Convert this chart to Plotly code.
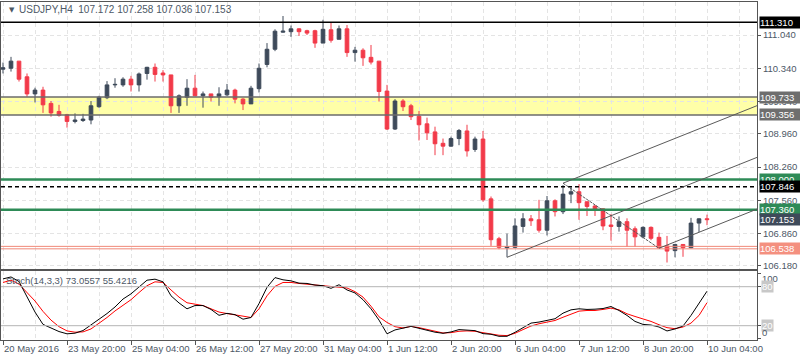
import plotly.graph_objects as go

# ---------------- data ----------------
opens = [110.32,110.34,110.49,110.16,109.80,109.88,109.60,109.43,109.36,109.22,
         109.24,109.25,109.53,109.72,109.99,109.99,110.11,109.99,110.23,110.36,
         110.24,110.20,109.55,109.73,109.92,109.76,109.80,109.74,109.78,109.88,
         109.69,109.59,109.91,110.42,110.74,111.10,111.11,111.17,111.13,111.13,
         110.87,111.15,110.95,111.17,110.67,110.72,110.57,110.49,109.86,109.06,
         109.65,109.55,109.33,109.17,109.00,108.76,108.70,108.86,109.02,108.63,
         108.85,107.59,106.75,106.56,106.57,107.01,107.17,107.15,106.93,107.55,
         107.32,107.69,107.74,107.53,107.44,107.38,107.04,107.01,107.11,106.96,
         106.79,106.99,106.78,106.60,106.50,106.63,106.56,107.08,107.172]
highs = [110.46,110.58,110.49,110.23,109.93,109.95,109.65,109.57,109.38,109.39,
         109.38,109.65,109.76,110.07,110.13,110.15,110.18,110.25,110.37,110.44,
         110.30,110.20,109.79,110.11,110.20,109.85,109.80,109.94,110.01,109.91,
         109.71,109.97,110.44,110.87,111.16,111.44,111.24,111.18,111.15,111.15,
         111.36,111.31,111.24,111.25,110.79,110.76,110.83,110.49,109.99,109.69,
         109.69,109.59,109.44,109.30,109.11,108.86,108.90,109.06,109.15,108.90,
         109.02,107.64,106.79,106.86,107.18,107.29,107.25,107.57,107.65,107.58,
         107.88,107.83,107.90,107.53,107.46,107.39,107.27,107.22,107.18,107.01,
         107.01,107.01,106.88,106.81,106.63,106.63,107.19,107.18,107.258]
lows = [110.23,110.27,110.06,109.74,109.62,109.40,109.32,109.32,109.09,109.18,
        109.21,109.16,109.51,109.69,109.93,109.95,109.85,109.85,110.10,110.06,
        110.06,109.40,109.40,109.55,109.76,109.51,109.64,109.55,109.76,109.60,
        109.46,109.59,109.83,110.36,110.70,111.09,111.00,111.02,111.04,110.77,
        110.87,110.88,110.95,110.58,110.48,110.39,110.42,109.64,109.04,109.04,
        109.44,109.25,108.82,108.83,108.51,108.51,108.69,108.72,108.48,108.58,
        107.53,106.60,106.53,106.36,106.55,106.88,107.02,106.88,106.82,107.22,
        107.27,107.50,107.15,107.23,107.23,106.93,106.71,106.90,106.58,106.58,
        106.76,106.72,106.55,106.25,106.36,106.37,106.55,106.89,107.036]
closes = [110.35,110.49,110.11,109.80,109.88,109.57,109.40,109.35,109.22,109.25,
          109.27,109.55,109.73,109.99,110.00,110.11,109.99,110.22,110.36,110.21,
          110.20,109.55,109.76,109.92,109.76,109.80,109.73,109.80,109.88,109.69,
          109.59,109.92,110.34,110.74,111.12,111.12,111.17,111.11,111.08,110.87,
          111.16,110.93,111.17,110.67,110.72,110.56,110.47,109.85,109.06,109.65,
          109.53,109.32,109.15,108.98,108.75,108.70,108.86,109.03,108.60,108.85,
          107.57,106.73,106.57,106.58,107.02,107.17,107.13,106.93,107.55,107.32,
          107.69,107.74,107.51,107.43,107.36,107.02,107.01,107.11,106.93,106.79,
          106.99,106.76,106.56,106.49,106.63,106.56,107.08,107.17,107.153]

stoch_main = [92,95,88,64,41,22,16,11,7.5,8.5,
              12.5,21,29.6,38.7,48.8,61,69,79,90,91.6,
              87.5,66,55,46,51,51,45,36,39,37,
              30,32.6,54,79,94,90.6,89,85.5,85,82.5,
              81.5,77.5,83,75,70.4,60,46,28.6,7.5,13.5,
              16.5,19,16,13,10,8.3,10.4,14,13.4,12.4,
              7.8,6.8,3.7,3.7,9.8,17.5,24,25.6,28,30.7,
              39.3,44.4,46,45,45.4,46.4,49.5,43.4,35.8,26.6,
              22,21,18,11.9,15,19.5,35.8,53.6,73.0557]
stoch_signal = [86.5,90,84,71.4,58,42,28.6,18.5,12,10,
                10.5,15,23.6,32.6,42.7,52,60,71,81.5,87.5,
                86.5,75,64,55.3,53,51,46,41,38.7,37.2,
                34.7,32.6,46,66,80.5,86.5,86.5,85,84,82.5,
                81,80,80,78,72.4,64,50,33.7,25,18.5,
                16.5,19,17,14,11,8.8,9.3,11.4,12,11.4,
                9.3,6.8,5.3,4.8,8.3,14,19.5,23,25.6,28,
                33,38.3,42.4,43.4,43.4,45,47,44.4,38.3,34.2,
                30.7,26.6,21.5,17,15.4,18,24,35.8,55.4216]

tick_idx = [0,8,16,24,32,40,48,56,64,72,80,88]
tick_text = ["20 May 2016","23 May 20:00","25 May 04:00","26 May 12:00","27 May 20:00",
             "31 May 04:00","1 Jun 12:00","2 Jun 20:00","6 Jun 04:00","7 Jun 12:00",
             "8 Jun 20:00","10 Jun 04:00"]
price_ticks = [111.04,110.34,109.64,108.96,108.26,107.56,106.86,106.18]

zone_top, zone_bottom = 109.733, 109.356
line_black = 111.310
line_dashed = 107.846
green_levels = [108.000, 107.360]
salmon_levels = [106.590, 106.538]
bid_price = 107.153

pf_idx = [63, 70, 82]             # Andrews pitchfork anchors
pf_price = [106.36, 107.92, 106.55]

# ---------------- figure ----------------
N = len(opens)
xs = list(range(N))
X_MAX = 94.25
FONT = "Liberation Sans"
TXT = "#4d5866"
RED = "#F23A49"
DARK = "#3E4A5A"

fig = go.Figure()
fig.add_trace(go.Candlestick(
    x=xs, open=opens, high=highs, low=lows, close=closes,
    xaxis="x2", yaxis="y",
    increasing=dict(line=dict(color=DARK, width=1), fillcolor=DARK),
    decreasing=dict(line=dict(color=RED, width=1), fillcolor=RED),
    whiskerwidth=0, showlegend=False, hoverinfo="skip"))

fig.add_trace(go.Scatter(x=xs, y=stoch_signal, mode="lines", xaxis="x", yaxis="y2",
                         line=dict(color="#FF0000", width=1), showlegend=False))
fig.add_trace(go.Scatter(x=xs, y=stoch_main, mode="lines", xaxis="x", yaxis="y2",
                         line=dict(color="#000000", width=1), showlegend=False))

shapes = []
shapes.append(dict(type="rect", xref="x2 domain", yref="y", x0=0, x1=1,
                   y0=zone_bottom, y1=zone_top, fillcolor="#FFFFA8",
                   line=dict(width=0), layer="below"))
for lv in (zone_top, zone_bottom):
    shapes.append(dict(type="line", xref="x2 domain", yref="y", x0=0, x1=1, y0=lv, y1=lv,
                       line=dict(color="#6b6b6b", width=1.5), layer="above"))
shapes.append(dict(type="line", xref="x2 domain", yref="y", x0=0, x1=1, y0=line_black, y1=line_black,
                   line=dict(color="#000000", width=1.5)))
shapes.append(dict(type="line", xref="x2 domain", yref="y", x0=0, x1=1, y0=line_dashed, y1=line_dashed,
                   line=dict(color="#000000", width=1.5, dash="4px,3px")))
for lv in green_levels:
    shapes.append(dict(type="line", xref="x2 domain", yref="y", x0=0, x1=1, y0=lv, y1=lv,
                       line=dict(color="#2E8B57", width=2.5)))
for lv in salmon_levels:
    shapes.append(dict(type="line", xref="x2 domain", yref="y", x0=0, x1=1, y0=lv, y1=lv,
                       line=dict(color="#F08878", width=1)))

# pitchfork
h_i, a_i, b_i = pf_idx
h_p, a_p, b_p = pf_price
mid_i = (a_i + b_i) / 2
mid_p = (a_p + b_p) / 2
slope = (mid_p - h_p) / (mid_i - h_i)
pf_col = dict(color="#5a5a5a", width=1)
for (i0, p0) in [(h_i, h_p), (a_i, a_p), (b_i, b_p)]:
    shapes.append(dict(type="line", xref="x2", yref="y", x0=i0, y0=p0,
                       x1=X_MAX, y1=p0 + slope * (X_MAX - i0), line=pf_col))
shapes.append(dict(type="line", xref="x2", yref="y", x0=a_i, y0=a_p, x1=b_i, y1=b_p,
                   line=dict(color="#5a5a5a", width=1, dash="3px,1px")))

for lv in (80, 20):
    shapes.append(dict(type="line", xref="x domain", yref="y2", x0=0, x1=1, y0=lv, y1=lv,
                       line=dict(color="#B4B4B4", width=1)))
fig.update_layout(shapes=shapes)

ann = []
def price_label(p, bg, fg="#FFFFFF"):
    ann.append(dict(xref="paper", yref="y", x=1, y=p, xanchor="left", yanchor="middle",
                    xshift=2, text=f"{p:.3f}", showarrow=False, bgcolor=bg, borderpad=0,
                    width=41, align="left", font=dict(family=FONT, size=9.5, color=fg)))

price_label(line_black, "#000000")
price_label(zone_top, "#6e6e6e")
price_label(zone_bottom, "#6e6e6e")
price_label(green_levels[0], "#2E8B57")
price_label(line_dashed, "#000000")
price_label(green_levels[1], "#2E8B57")
price_label(bid_price, "#3E4A5A")
price_label(salmon_levels[1], "#F4907F")

for v, shift, bg in [(100, -5, None), (80, 0, "#C8C8C8"), (20, 0, "#C8C8C8"), (0, 6, None)]:
    d = dict(xref="paper", yref="y2", x=1, y=v, xanchor="left", yanchor="middle",
             xshift=4, yshift=shift, text=str(v), showarrow=False, borderpad=0,
             font=dict(family=FONT, size=9.5, color="#FFFFFF" if bg else TXT))
    if bg:
        d["bgcolor"] = bg
    ann.append(d)

ann.append(dict(xref="paper", yref="y", x=0, y=111.57, xanchor="left", yanchor="middle",
                xshift=6, text="▼", showarrow=False,
                font=dict(family="DejaVu Sans", size=7, color=TXT)))
ann.append(dict(xref="paper", yref="y", x=0, y=111.57, xanchor="left", yanchor="middle",
                xshift=16, text="USDJPY,H4  107.172 107.258 107.036 107.153", showarrow=False,
                font=dict(family=FONT, size=10, color=TXT)))
ann.append(dict(xref="paper", yref="y2", x=0, y=89, xanchor="left", yanchor="middle",
                xshift=3, text="Stoch(14,3,3) 73.0557 55.4216", showarrow=False,
                font=dict(family=FONT, size=9.5, color=TXT)))
fig.update_layout(annotations=ann)

grid = dict(gridcolor="#E4E4E4", griddash="4px,3px", gridwidth=1)
minor_vals = [i for i in range(4, 95, 8)]

fig.update_layout(
    width=800, height=360,
    margin=dict(l=1, r=43, t=2, b=20, autoexpand=False),
    paper_bgcolor="#FFFFFF", plot_bgcolor="#FFFFFF",
    boxgap=0.35,
    showlegend=False,
    xaxis=dict(domain=[0, 1], anchor="y2", range=[-0.25, X_MAX], automargin=False,
               tickmode="array", tickvals=tick_idx, ticktext=tick_text, tickangle=0,
               ticks="outside", ticklen=4, tickcolor="#555",
               ticklabelposition="outside right",
               tickfont=dict(family=FONT, size=9.5, color=TXT),
               showline=True, linecolor="#555", linewidth=1, mirror=True,
               showgrid=True, **grid,
               minor=dict(tickmode="array", tickvals=minor_vals, showgrid=True,
                          gridcolor="#E4E4E4", griddash="4px,3px", ticks=""),
               rangeslider=dict(visible=False), zeroline=False),
    xaxis2=dict(domain=[0, 1], anchor="y", matches="x", range=[-0.25, X_MAX], automargin=False,
                tickmode="array", tickvals=tick_idx, showticklabels=False, ticks="",
                showline=True, linecolor="#555", linewidth=1, mirror=True,
                showgrid=True, **grid,
                minor=dict(tickmode="array", tickvals=minor_vals, showgrid=True,
                           gridcolor="#E4E4E4", griddash="4px,3px", ticks=""),
                rangeslider=dict(visible=False), zeroline=False),
    yaxis=dict(domain=[0.2086, 1], anchor="x2", side="right", range=[106.103, 111.735],
               automargin=False,
               tickmode="array", tickvals=price_ticks, ticktext=[f"{v:.3f}" for v in price_ticks],
               ticks="outside", ticklen=3, tickcolor="#555",
               tickfont=dict(family=FONT, size=9.5, color=TXT),
               showline=True, linecolor="#555", linewidth=1, mirror=True,
               showgrid=True, **grid, zeroline=False),
    yaxis2=dict(domain=[0, 0.2027], anchor="x", side="right", range=[-2.0, 103.4],
                automargin=False,
                tickmode="array", tickvals=[0, 20, 80, 100], showticklabels=False,
                ticks="outside", ticklen=3, tickcolor="#555",
                showline=True, linecolor="#555", linewidth=1, mirror=True,
                showgrid=False, zeroline=False),
)

fig.write_html("out.html", config={"displayModeBar": False},
               post_script="document.body.style.margin='0';document.body.style.overflow='hidden';")
